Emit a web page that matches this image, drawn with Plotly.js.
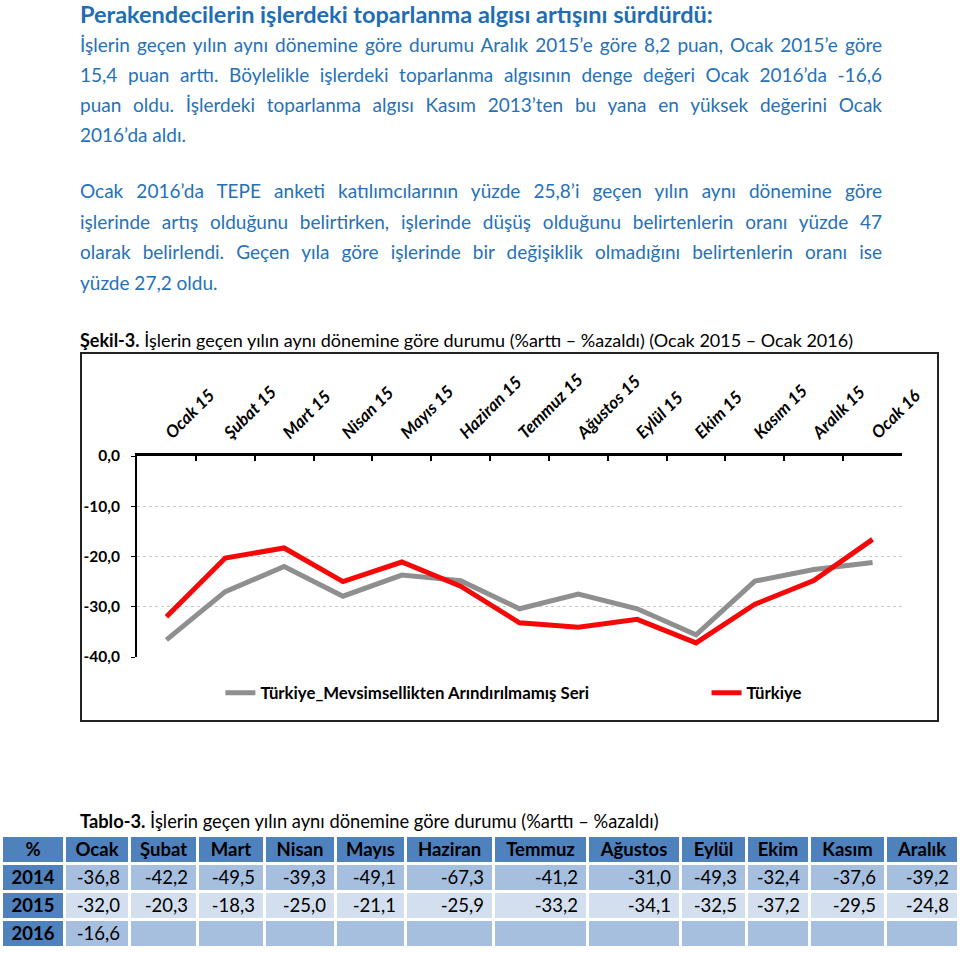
<!DOCTYPE html>
<html>
<head>
<meta charset="utf-8">
<script src="https://cdn.plot.ly/plotly-3.0.1.min.js"></script>
<style>
  html, body { margin:0; padding:0; background:#fff; }
  body { width:960px; height:953px; position:relative; overflow:hidden; font-family: Lato, "Open Sans", sans-serif; }
  .blk { position:absolute; left:80px; width:802px; }
  .title { top:0px; font-weight:700; font-size:23.5px; line-height:28px; color:#1F6DB3; white-space:nowrap; }
  .para { color:#2671B6; font-size:19px; }
  .para div { text-align:justify; text-align-last:justify; white-space:nowrap; }
  .para div.last { text-align-last:left; }
  #p1 { top:30px; line-height:30px; }
  #p2 { top:176px; line-height:30.6px; }
  .cap { font-size:18px; color:#000; line-height:24px; white-space:nowrap; }
  #cap1 { top:328px; }
  #cap2 { top:809px; font-size:18.3px; }
  #chart { position:absolute; left:81px; top:353px; width:857px; height:368px; }
  #frame { position:absolute; left:80px; top:352px; width:859px; height:370px; border:2px solid #222; box-sizing:border-box; pointer-events:none; }
  #tbl { position:absolute; left:0px; top:834px; border-collapse:separate; border-spacing:3px 3px; table-layout:fixed; font-size:18.5px; }
  #tbl td { padding:0; height:25px; line-height:25px; overflow:hidden; white-space:nowrap; color:#000; }
  #tbl td.hd { background:#4F81BD; font-weight:700; text-align:center; }
  #tbl td.yr { background:#4F81BD; font-weight:700; text-align:center; }
  #tbl td.v { text-align:right; padding-right:8px; box-sizing:border-box; }
  #tbl tr.odd td.v { background:#A7BFDE; }
  #tbl tr.even td.v { background:#D3DFEE; }
</style>
</head>
<body>
<div class="blk title">Perakendecilerin işlerdeki toparlanma algısı artışını sürdürdü:</div>
<div class="blk para" id="p1">
  <div>İşlerin geçen yılın aynı dönemine göre durumu Aralık 2015’e göre 8,2 puan, Ocak 2015’e göre</div>
  <div>15,4 puan arttı. Böylelikle işlerdeki toparlanma algısının denge değeri Ocak 2016’da -16,6</div>
  <div>puan oldu. İşlerdeki toparlanma algısı Kasım 2013’ten bu yana en yüksek değerini Ocak</div>
  <div class="last">2016’da aldı.</div>
</div>
<div class="blk para" id="p2">
  <div>Ocak 2016’da TEPE anketi katılımcılarının yüzde 25,8’i geçen yılın aynı dönemine göre</div>
  <div>işlerinde artış olduğunu belirtirken, işlerinde düşüş olduğunu belirtenlerin oranı yüzde 47</div>
  <div>olarak belirlendi. Geçen yıla göre işlerinde bir değişiklik olmadığını belirtenlerin oranı ise</div>
  <div class="last">yüzde 27,2 oldu.</div>
</div>
<div class="blk cap" id="cap1"><b>Şekil-3.</b> İşlerin geçen yılın aynı dönemine göre durumu (%arttı – %azaldı) (Ocak 2015 – Ocak 2016)</div>
<div id="chart"></div>
<div id="frame"></div>
<div class="blk cap" id="cap2"><b>Tablo-3.</b> İşlerin geçen yılın aynı dönemine göre durumu (%arttı – %azaldı)</div>
<table id="tbl"></table>
<script>
// ---- Chart data ----
const months = ['Ocak 15','Şubat 15','Mart 15','Nisan 15','Mayıs 15','Haziran 15','Temmuz 15','Ağustos 15','Eylül 15','Ekim 15','Kasım 15','Aralık 15','Ocak 16'];
const unadjustedSeries = [-36.6,-27.0,-22.0,-27.9,-23.7,-24.8,-30.4,-27.5,-30.4,-35.6,-24.9,-22.6,-21.2];
const turkiyeSeries = [-32.0,-20.3,-18.3,-25.0,-21.1,-25.9,-33.2,-34.1,-32.5,-37.2,-29.5,-24.8,-16.6];
const unadjustedName = 'Türkiye_Mevsimsellikten Arındırılmamış Seri';
const turkiyeName = 'Türkiye';
const yTickVals = [0,-10,-20,-30,-40];
const yTickLabels = ['0,0','-10,0','-20,0','-30,0','-40,0'];

// ---- Table data ----
const tableHeader = ['%','Ocak','Şubat','Mart','Nisan','Mayıs','Haziran','Temmuz','Ağustos','Eylül','Ekim','Kasım','Aralık'];
const tableYears = ['2014','2015','2016'];
const values2014 = ['-36,8','-42,2','-49,5','-39,3','-49,1','-67,3','-41,2','-31,0','-49,3','-32,4','-37,6','-39,2'];
const values2015 = ['-32,0','-20,3','-18,3','-25,0','-21,1','-25,9','-33,2','-34,1','-32,5','-37,2','-29,5','-24,8'];
const values2016 = ['-16,6','','','','','','','','','','',''];

// build table
(function(){
  const colW = [60,62,65,64,68,67,85,91,90,63,60,73,70];
  const tbl = document.getElementById('tbl');
  const cg = document.createElement('colgroup');
  colW.forEach(w => { const c = document.createElement('col'); c.style.width = w+'px'; cg.appendChild(c); });
  tbl.appendChild(cg);
  const hr = document.createElement('tr');
  tableHeader.forEach(h => { const td = document.createElement('td'); td.className='hd'; td.textContent=h; hr.appendChild(td); });
  tbl.appendChild(hr);
  [values2014, values2015, values2016].forEach((vals, i) => {
    const tr = document.createElement('tr');
    tr.className = (i % 2 === 0) ? 'odd' : 'even';
    const y = document.createElement('td'); y.className='yr'; y.textContent = tableYears[i]; tr.appendChild(y);
    vals.forEach(v => { const td = document.createElement('td'); td.className='v'; td.textContent=v; tr.appendChild(td); });
    tbl.appendChild(tr);
  });
})();

const FONT = 'Lato, "Open Sans", sans-serif';
const legendFont = { family:FONT, size:16.8, weight:700, color:'#000' };
const traces = [
  { x: months, y: unadjustedSeries, name: unadjustedName, type:'scatter', mode:'lines',
    line:{ color:'#8F8F8F', width:5 }, legend:'legend' },
  { x: months, y: turkiyeSeries, name: turkiyeName, type:'scatter', mode:'lines',
    line:{ color:'#F50808', width:5 }, legend:'legend2' }
];
const layout = {
  width: 857, height: 368,
  margin: { l:56, r:36, t:103, b:63 },
  paper_bgcolor:'rgba(0,0,0,0)', plot_bgcolor:'rgba(0,0,0,0)',
  font: { family: FONT, color:'#000' },
  showlegend: true,
  legend: { orientation:'h', x:0.109, xanchor:'left', y:-0.173, yanchor:'middle', font: legendFont },
  legend2: { orientation:'h', x:0.7445, xanchor:'left', y:-0.173, yanchor:'middle', font: legendFont },
  xaxis: { type:'category', side:'top', range:[-0.5, 12.5], tickson:'boundaries',
           ticks:'inside', ticklen:5, tickwidth:2, tickcolor:'#000', ticklabelstandoff:4,
           showline:true, linewidth:3, linecolor:'#000', showgrid:false, zeroline:false,
           tickangle:-45, tickfont:{ family:FONT, size:17, weight:700, style:'italic', color:'#000' },
           fixedrange:true },
  yaxis: { range:[-40, 0], tickvals: yTickVals, ticktext: yTickLabels,
           showline:true, linewidth:2, linecolor:'#000', ticks:'outside', ticklen:4, tickwidth:1, tickcolor:'#000',
           ticklabelstandoff:8,
           showgrid:true, gridcolor:'#C8C8C8', gridwidth:1, griddash:'dot', zeroline:false,
           tickfont:{ family:FONT, size:15.5, weight:700, color:'#000' }, fixedrange:true }
};
Plotly.newPlot('chart', traces, layout, { displayModeBar:false, staticPlot:true });
</script>
</body>
</html>
